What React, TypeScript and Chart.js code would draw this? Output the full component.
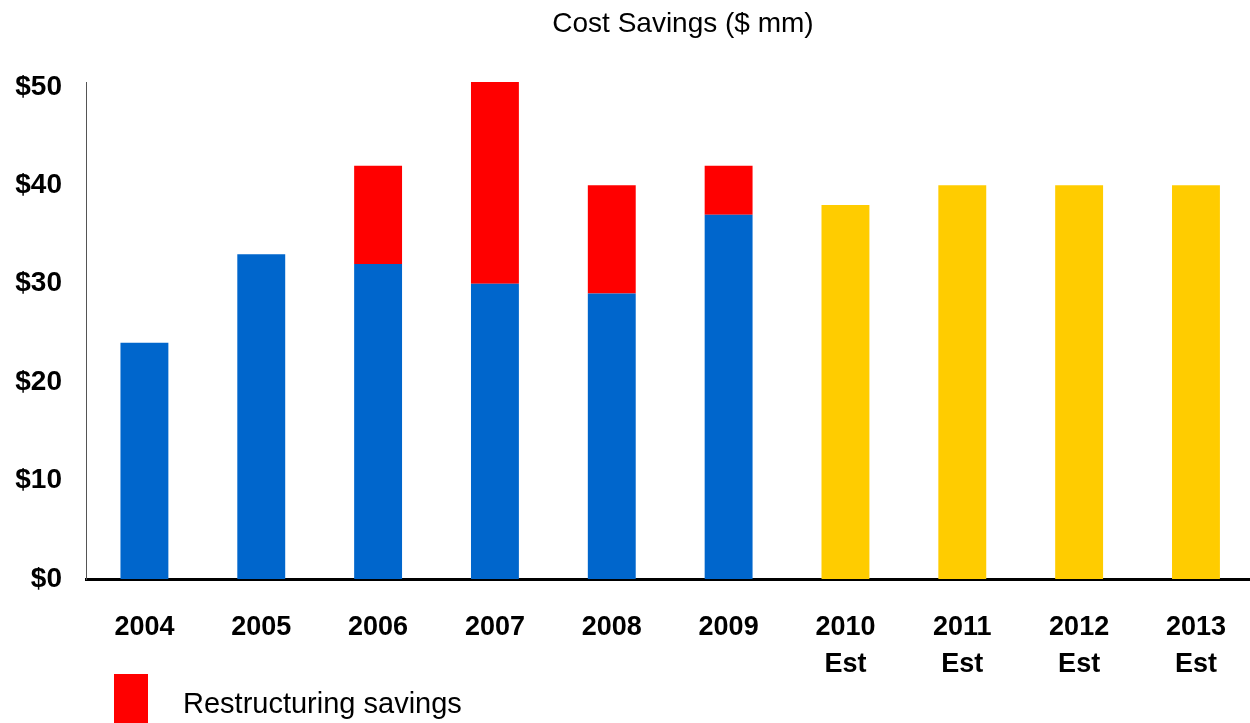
import React, { useEffect, useRef } from "react";
import { Chart, registerables } from "chart.js";

Chart.register(...registerables);

const TITLE = "Cost Savings ($ mm)";
const categories: string[][] = [
  ["2004"], ["2005"], ["2006"], ["2007"], ["2008"], ["2009"],
  ["2010", "Est"], ["2011", "Est"], ["2012", "Est"], ["2013", "Est"],
];
const baseSavings = [24, 33, 32, 30, 29, 37, null, null, null, null];
const restructuringSavings = [null, null, 10, 20.5, 11, 5, null, null, null, null];
const estimatedSavings = [null, null, null, null, null, null, 38, 40, 40, 40];
const yTickValues = [0, 10, 20, 30, 40, 50];
const LEGEND_LABEL = "Restructuring savings";

const BLUE = "#0066CC";
const RED = "#FF0000";
const YELLOW = "#FFCC00";
const NARROW = "'Liberation Sans Narrow', 'Arial Narrow', 'Liberation Sans', sans-serif";
const BOLD = "'Liberation Sans', Arial, sans-serif";

const overlayPlugin = {
  id: "overlayText",
  afterDraw(chart: any) {
    const ctx = chart.ctx;
    ctx.save();
    ctx.fillStyle = "#000";
    ctx.font = `28px ${NARROW}`;
    ctx.textAlign = "center";
    ctx.textBaseline = "middle";
    ctx.fillText(TITLE, 683, 24);
    const ds = chart.data.datasets[1];
    ctx.fillStyle = ds.backgroundColor;
    ctx.fillRect(114, 674, 34, 60);
    ctx.fillStyle = "#000";
    ctx.textAlign = "left";
    ctx.font = `29px ${NARROW}`;
    ctx.fillText(ds.label, 183, 705);
    ctx.restore();
  },
};

export default function App() {
  const ref = useRef<HTMLCanvasElement | null>(null);
  useEffect(() => {
    if (!ref.current) return;
    const chart = new Chart(ref.current, {
      type: "bar",
      data: {
        labels: categories,
        datasets: [
          { label: "Savings", data: baseSavings, backgroundColor: BLUE },
          { label: LEGEND_LABEL, data: restructuringSavings, backgroundColor: RED },
          { label: "Estimated", data: estimatedSavings, backgroundColor: YELLOW },
        ],
      },
      options: {
        responsive: false,
        animation: false,
        layout: { padding: { top: 82, bottom: 0, left: 0, right: 0 } },
        datasets: { bar: { barPercentage: 0.41, categoryPercentage: 1 } },
        plugins: { legend: { display: false }, title: { display: false }, tooltip: { enabled: false } },
        scales: {
          x: {
            stacked: true,
            grid: { display: false, drawTicks: false },
            border: { display: true, color: "#000", width: 3 },
            ticks: {
              color: "#000",
              padding: 30,
              maxRotation: 0,
              autoSkip: false,
              font: { family: BOLD, size: 27, weight: "bold", lineHeight: 1.37 },
            },
            afterFit: (s: any) => { s.height = 144; },
          },
          y: {
            stacked: true,
            min: 0,
            max: 50.5,
            grid: { display: false, drawTicks: false },
            border: { display: true, color: "#555", width: 1 },
            ticks: {
              stepSize: 10,
              color: "#000",
              padding: 24,
              font: { family: BOLD, size: 28, weight: "bold" },
              callback: (v: any) => "$" + v,
            },
            afterBuildTicks: (s: any) => {
              s.ticks = yTickValues.map((v) => ({ value: v }));
            },
            afterFit: (s: any) => { s.width = 86; },
          },
        },
      },
      plugins: [overlayPlugin],
    });
    return () => chart.destroy();
  }, []);
  return (
    <div style={{ position: "fixed", left: 0, top: 0, width: 1250, height: 723, overflow: "hidden", background: "#fff" }}>
      <canvas ref={ref} width={1256} height={723} style={{ display: "block" }} />
    </div>
  );
}
